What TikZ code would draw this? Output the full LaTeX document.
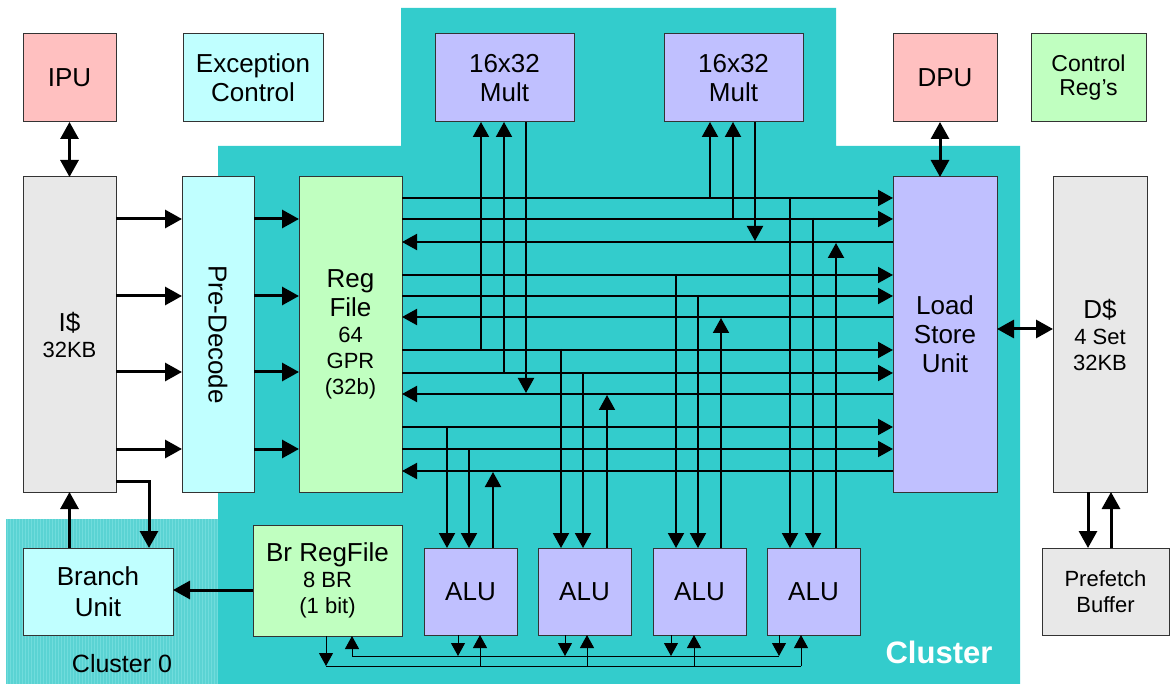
\documentclass[tikz,border=0pt]{standalone}
\usepackage{fontspec}
\setmainfont{Liberation Sans}
\usetikzlibrary{arrows.meta}
\definecolor{teal1}{HTML}{33CCCC}
\definecolor{clzero}{HTML}{5AD3D3}
\definecolor{clzerob}{HTML}{70DCDC}
\definecolor{pinkc}{HTML}{FFC0C0}
\definecolor{cyanc}{HTML}{C0FFFF}
\definecolor{lavc}{HTML}{C0C0FF}
\definecolor{greenc}{HTML}{C0FFC0}
\definecolor{grayc}{HTML}{E8E8E8}
\newcommand\fbig{\fontsize{26}{29}\selectfont}
\newcommand\fsml{\fontsize{22}{26}\selectfont}
\newcommand\fctl{\fontsize{23}{27}\selectfont}
\begin{document}
\begin{tikzpicture}[x=1pt,y=-1pt,
  box/.style={draw=black!80, line width=1pt, inner sep=0pt, outer sep=0pt, align=center, font=\fbig},
  tkarr/.style={line width=3pt, >={Triangle[length=17pt,width=18pt]}},
  busarr/.style={line width=2pt, >={Triangle[length=15pt,width=16pt]}},
  smarr/.style={line width=1pt, >={Triangle[length=13pt,width=14pt]}},
  lbl/.style={align=center, inner sep=0pt}]
\useasboundingbox (0,0) rectangle (1170,684);
% backgrounds
\fill[teal1] (218,146) -- (401,146) -- (401,8) -- (836,8) -- (836,146) -- (1020,146) -- (1020,684) -- (218,684) -- cycle;
\fill[clzero] (6,519) rectangle (218,684);
\foreach \i in {0,...,70} \draw[clzerob, line width=1pt] (7.5+3*\i,519) -- (7.5+3*\i,684);
% boxes
\node[box, fill=pinkc, minimum width=93pt, minimum height=88pt] (ipu) at (69.5,78) {IPU};
\node[box, fill=cyanc, minimum width=140pt, minimum height=88pt] (exc) at (253,78) {Exception\\Control};
\node[box, fill=lavc, minimum width=139pt, minimum height=88pt] (mult1) at (504.5,78) {16x32\\Mult};
\node[box, fill=lavc, minimum width=139pt, minimum height=88pt] (mult2) at (733.5,78) {16x32\\Mult};
\node[box, fill=pinkc, minimum width=104pt, minimum height=88pt] (dpu) at (945,78) {DPU};
\node[box, fill=greenc, minimum width=115pt, minimum height=88pt, font=\fctl] (ctrl) at (1088.5,78) {\raisebox{-3pt}{Control}\\Reg’s};
\node[box, fill=grayc, minimum width=93pt, minimum height=315pt, font=\fsml] (icache) at (69.5,334.5) {{\fbig I\$}\\32KB};
\node[box, fill=cyanc, minimum width=72pt, minimum height=315pt] (pre) at (218,334.5) {};
\node[lbl, rotate=-90, font=\fbig] (pretxt) at (pre.center) {Pre-Decode};
\node[box, fill=greenc, minimum width=103pt, minimum height=315pt, font=\fsml] (rf) at (350.5,334.5) {{\fbig Reg}\\[3pt]{\fbig File}\\64\\GPR\\(32b)};
\node[box, fill=lavc, minimum width=104pt, minimum height=315pt] (lsu) at (945,334.5) {Load\\Store\\Unit};
\node[box, fill=grayc, minimum width=94pt, minimum height=315pt, font=\fsml] (dc) at (1100,334.5) {{\fbig D\$}\\4 Set\\32KB};
\node[box, fill=cyanc, minimum width=150pt, minimum height=87pt, font=\fontsize{26}{31}\selectfont] (branch) at (98,591.5) {Branch\\Unit};
\node[box, fill=greenc, minimum width=149pt, minimum height=111pt, font=\fsml] (brf) at (327.5,580.5) {{\fbig Br RegFile}\\8 BR\\(1 bit)};
\node[box, fill=lavc, minimum width=93pt, minimum height=87pt] (alu1) at (470.5,591.5) {ALU};
\node[box, fill=lavc, minimum width=93pt, minimum height=87pt] (alu2) at (584.5,591.5) {ALU};
\node[box, fill=lavc, minimum width=93pt, minimum height=87pt] (alu3) at (699.5,591.5) {ALU};
\node[box, fill=lavc, minimum width=93pt, minimum height=87pt] (alu4) at (813.5,591.5) {ALU};
\node[box, fill=grayc, minimum width=127pt, minimum height=87pt, font=\fsml] (pf) at (1105.5,591.5) {Prefetch\\Buffer};
% labels
\node[lbl, anchor=base, font=\fontsize{25}{29}\selectfont] (cl0) at (122,672) {Cluster 0};
\node[lbl, anchor=base, text=white, font=\fontsize{31}{35}\selectfont\bfseries] (cl) at (939,663) {Cluster};
% thick arrows
\draw[tkarr,<->] (ipu.south) -- (icache.north);
\draw[tkarr,<->] (dpu.south -| 940,0) -- (lsu.north -| 940,0);
\foreach \yy in {219,296,372,449} {
  \draw[tkarr,->] (icache.east |- 0,\yy) -- (pre.west |- 0,\yy);
  \draw[tkarr,->] (pre.east |- 0,\yy) -- (rf.west |- 0,\yy);
}
\draw[tkarr,<->] (lsu.east |- 0,329) -- (dc.west |- 0,329);
\draw[tkarr,->] (dc.south -| 1088,0) -- (pf.north -| 1088,0);
\draw[tkarr,->] (pf.north -| 1111,0) -- (dc.south -| 1111,0);
\draw[tkarr,->] (icache.east |- 0,481) -| (branch.north -| 149,0);
\draw[tkarr,->] (branch.north -| 69.5,0) -- (icache.south -| 69.5,0);
\draw[tkarr,->] (brf.west |- 0,590) -- (branch.east |- 0,590);
% register file buses
\foreach \yy in {198,219,275,296,350,373,427,449}
  \draw[busarr,->] (rf.east |- 0,\yy) -- (lsu.west |- 0,\yy);
\foreach \yy in {242,317,394,471}
  \draw[busarr,->] (lsu.west |- 0,\yy) -- (rf.east |- 0,\yy);
% multipliers
\draw[busarr,->] (710,199) -- (mult2.south -| 710,0);
\draw[busarr,->] (733,220) -- (mult2.south -| 733,0);
\draw[busarr,->] (mult2.south -| 755,0) -- (755,241);
\draw[busarr,->] (481,351) -- (mult1.south -| 481,0);
\draw[busarr,->] (504,374) -- (mult1.south -| 504,0);
\draw[busarr,->] (mult1.south -| 526,0) -- (526,393);
% ALUs
\draw[busarr,->] (790,197) -- (alu4.north -| 790,0);
\draw[busarr,->] (813,218) -- (alu4.north -| 813,0);
\draw[busarr,->] (alu4.north -| 836,0) -- (836,243);
\draw[busarr,->] (676,274) -- (alu3.north -| 676,0);
\draw[busarr,->] (698,295) -- (alu3.north -| 698,0);
\draw[busarr,->] (alu3.north -| 721,0) -- (721,318);
\draw[busarr,->] (561,349) -- (alu2.north -| 561,0);
\draw[busarr,->] (583,372) -- (alu2.north -| 583,0);
\draw[busarr,->] (alu2.north -| 607,0) -- (607,395);
\draw[busarr,->] (447,426) -- (alu1.north -| 447,0);
\draw[busarr,->] (469,448) -- (alu1.north -| 469,0);
\draw[busarr,->] (alu1.north -| 493,0) -- (493,472);
% bottom branch-register buses
\draw[smarr,->] (779,656) -- (352,656) -- (brf.south -| 352,0);
\foreach \a/\x in {alu1/458, alu2/565, alu3/671, alu4/779}
  \draw[smarr,->] (\a.south -| \x,0) -- (\x,656);
\draw[smarr,->] (brf.south -| 326,0) -- (326,666);
\draw[smarr] (326,666) -- (801,666);
\foreach \a/\x in {alu1/480, alu2/587, alu3/694, alu4/801}
  \draw[smarr,->] (\x,666) -- (\a.south -| \x,0);
\end{tikzpicture}
\end{document}
